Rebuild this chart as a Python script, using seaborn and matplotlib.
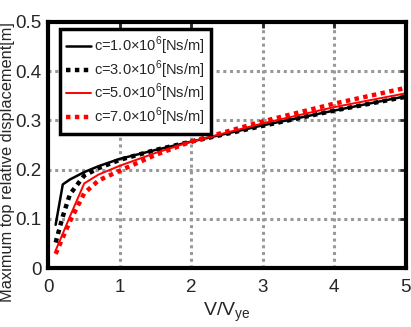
import numpy as np
import pandas as pd
import matplotlib
matplotlib.use('Agg')
import matplotlib.pyplot as plt
import seaborn as sns

# values
v_ratio = [0.1, 0.2, 0.3, 0.5, 0.7, 1.0, 1.5, 2.0, 3.0, 4.0, 5.0]
disp_c1 = [0.088, 0.170, 0.180, 0.195, 0.207, 0.222, 0.240, 0.257, 0.290, 0.320, 0.349]
disp_c3 = [0.052, 0.105, 0.150, 0.188, 0.203, 0.220, 0.240, 0.257, 0.289, 0.320, 0.348]
disp_c5 = [0.036, 0.070, 0.105, 0.172, 0.190, 0.208, 0.234, 0.257, 0.294, 0.327, 0.355]
disp_c7 = [0.029, 0.062, 0.095, 0.152, 0.178, 0.198, 0.230, 0.257, 0.298, 0.334, 0.366]
labels = [r'c=1.0$\times$10$^6$[Ns/m]', r'c=3.0$\times$10$^6$[Ns/m]',
          r'c=5.0$\times$10$^6$[Ns/m]', r'c=7.0$\times$10$^6$[Ns/m]']

df = pd.concat([pd.DataFrame({'x': v_ratio, 'y': d, 'case': lab})
                for d, lab in zip([disp_c1, disp_c3, disp_c5, disp_c7], labels)])

sns.set_style('white')
plt.rcParams['font.family'] = ['Liberation Sans', 'DejaVu Sans']
plt.rcParams['mathtext.fontset'] = 'custom'
plt.rcParams['mathtext.rm'] = 'Liberation Sans'

fig = plt.figure(figsize=(4.11, 3.27), dpi=100)
ax = fig.add_axes([0.118, 0.180, 0.869, 0.753])

palette = {labels[0]: 'black', labels[1]: 'black', labels[2]: 'red', labels[3]: 'red'}
sns.lineplot(data=df, x='x', y='y', hue='case', palette=palette, ax=ax, legend=False)
styles = [('-', 1.8), ((0, (1.0, 1.0)), 3.2), ('-', 1.4), ((0, (1.0, 1.0)), 3.2)]
for line, (ls, lw) in zip(ax.get_lines(), styles):
    line.set_linestyle(ls)
    line.set_linewidth(lw)

ax.set_xlim(0, 5)
ax.set_ylim(0, 0.5)
ax.set_xticks([0, 1, 2, 3, 4, 5])
ax.set_yticks([0, 0.1, 0.2, 0.3, 0.4, 0.5])
ax.set_yticklabels(['0', '0.1', '0.2', '0.3', '0.4', '0.5'])
ax.grid(True, color='#999999', linestyle=(0, (1, 1.2)), linewidth=2.2)
ax.tick_params(direction='in', length=4, width=2, top=True, right=True,
               labelsize=13.5, pad=5)
ax.tick_params(axis='x', pad=8)
for s in ax.spines.values():
    s.set_linewidth(3)
    s.set_color('black')

ax.set_xlabel(r'V/V$_{\rm ye}$', fontsize=14)
ax.xaxis.set_label_coords(0.5, -0.13)
ax.set_ylabel('Maximum top relative displacement[m]', fontsize=11.8)
ax.yaxis.set_label_coords(-0.094, 0.43)

leg = ax.legend(ax.get_lines(), labels, loc='upper left', bbox_to_anchor=(0.012, 1.0),
                fontsize=10.5, frameon=True, fancybox=False, edgecolor='black',
                handlelength=1.75, handletextpad=0.2, borderpad=0.4, labelspacing=0.08)
leg.get_frame().set_linewidth(2.5)
leg.get_frame().set_alpha(1)

fig.savefig('out.png', dpi=100)
